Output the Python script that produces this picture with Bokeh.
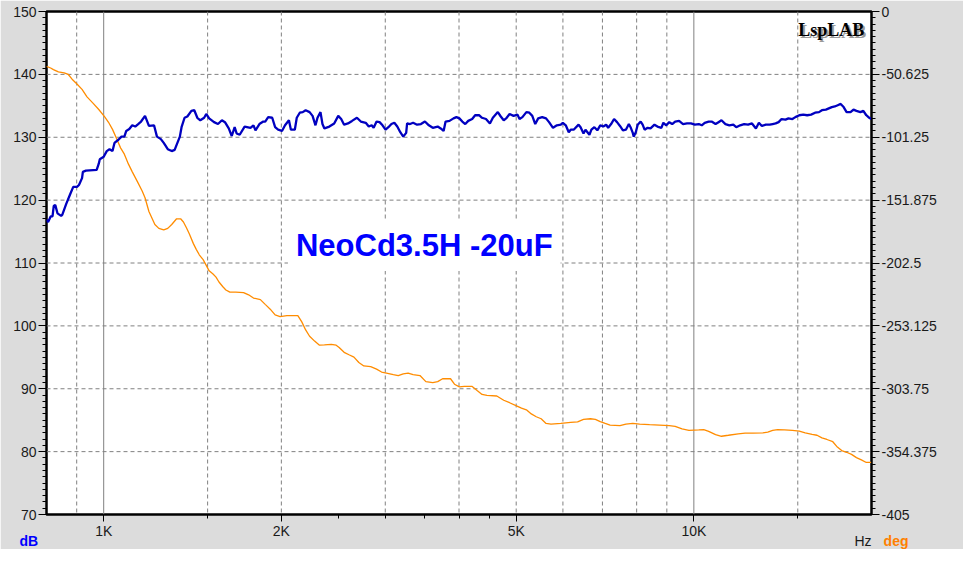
from bokeh.plotting import figure
from bokeh.models import Range1d, LinearAxis, FixedTicker, Span, Label, Title, CustomJSTickFormatter
from bokeh.embed import file_html
from bokeh.resources import INLINE

# ---- data ----
spl_freq = [800, 805, 813, 819, 823, 828, 835, 847, 851, 864, 877, 888, 901, 908, 919, 922, 933, 973, 981, 985,
            1000, 1012, 1023, 1035, 1043, 1059, 1072, 1084, 1092, 1105, 1118, 1131, 1144, 1157, 1175, 1184, 1193,
            1217, 1231, 1250, 1264, 1284, 1304, 1319, 1346, 1355, 1371, 1386, 1408, 1424, 1441, 1458, 1480, 1492,
            1509, 1538, 1562, 1586, 1605, 1629, 1648, 1667, 1680, 1700, 1733, 1773, 1794, 1808, 1836, 1864, 1878,
            1900, 1930, 1952, 1975, 2005, 2029, 2060, 2076, 2108, 2124, 2149, 2174, 2199, 2233, 2259, 2285, 2303,
            2330, 2348, 2366, 2412, 2458, 2497, 2526, 2555, 2594, 2635, 2686, 2727, 2780, 2813, 2845, 2867, 2900,
            2934, 2968, 3003, 3037, 3073, 3108, 3144, 3181, 3218, 3255, 3267, 3305, 3344, 3396, 3448, 3502, 3556,
            3611, 3681, 3724, 3767, 3796, 3855, 3915, 3960, 4006, 4052, 4099, 4147, 4211, 4260, 4326, 4376, 4444,
            4513, 4565, 4654, 4708, 4762, 4818, 4873, 4949, 5026, 5065, 5123, 5203, 5263, 5324, 5386, 5448, 5533,
            5618, 5684, 5772, 5861, 5952, 5998, 6067, 6138, 6185, 6257, 6378, 6428, 6502, 6552, 6654, 6705, 6783,
            6862, 6941, 7022, 7103, 7158, 7241, 7325, 7410, 7496, 7583, 7671, 7760, 7820, 7880, 7910, 7972, 8033,
            8126, 8189, 8252, 8348, 8445, 8576, 8675, 8810, 8878, 8981, 9085, 9190, 9297, 9441, 9587, 9736, 9886,
            10040, 10195, 10313, 10433, 10595, 10718, 10884, 11010, 11138, 11311, 11486, 11664, 11799, 11982,
            12167, 12356, 12547, 12741, 12889, 13039, 13241, 13446, 13602, 13760, 13920, 14081, 14299, 14465,
            14689, 14860, 15090, 15324, 15561, 15802, 16047, 16295, 16484, 16740, 16934, 17131, 17330, 17531,
            17734, 17940, 18148, 18429, 18643, 18859, 19151, 19373, 19598, 19825, 19980]
spl_db = [116.9, 116.5, 117.4, 117.4, 119.1, 119.2, 117.9, 117.5, 117.7, 119.4, 120.9, 122.1, 122.1, 122.4, 123.5,
          124.5, 124.7, 124.8, 125.8, 126.5, 126.9, 127.8, 128.1, 127.8, 129.1, 129.6, 130.1, 130.1, 131.0, 131.3,
          131.9, 131.7, 132.1, 132.5, 133.4, 132.6, 131.8, 131.9, 130.1, 129.7, 129.1, 128.1, 127.8, 128.0, 130.1,
          131.6, 133.1, 133.3, 134.2, 134.3, 133.1, 132.7, 133.1, 133.7, 133.0, 132.4, 132.1, 132.7, 132.4, 131.4,
          130.2, 131.6, 130.6, 130.4, 131.7, 131.5, 131.9, 131.1, 132.1, 132.5, 132.5, 133.2, 133.1, 131.6, 131.2,
          131.0, 131.9, 132.7, 131.2, 131.2, 133.1, 133.9, 134.0, 134.3, 134.0, 133.4, 131.9, 133.1, 134.0, 132.1,
          131.4, 131.7, 132.2, 133.4, 132.9, 132.0, 132.2, 132.6, 133.1, 132.5, 132.3, 131.7, 131.9, 131.5, 132.5,
          132.4, 131.9, 131.2, 131.6, 132.1, 132.3, 131.7, 130.8, 130.1, 130.7, 132.2, 132.1, 132.3, 132.0, 132.1,
          132.5, 131.9, 131.5, 131.7, 131.4, 131.0, 132.5, 132.6, 133.0, 133.2, 133.0, 132.5, 132.1, 132.6, 132.9,
          133.5, 133.5, 133.1, 132.9, 132.2, 133.1, 134.0, 133.3, 132.7, 133.1, 133.7, 133.4, 133.6, 132.9, 133.2,
          134.0, 133.9, 133.4, 132.1, 133.0, 133.2, 133.0, 132.4, 131.5, 131.9, 132.0, 132.3, 131.9, 130.8, 131.2,
          131.2, 132.0, 131.6, 130.6, 131.2, 130.4, 131.2, 131.6, 131.1, 131.9, 131.7, 132.0, 131.5, 132.1, 132.9,
          132.4, 131.8, 131.1, 131.2, 132.1, 131.5, 130.7, 130.1, 130.8, 132.0, 132.5, 132.0, 131.2, 131.5, 131.4,
          132.0, 131.7, 131.5, 132.3, 131.9, 132.4, 132.1, 132.5, 132.6, 132.1, 132.2, 132.2, 132.0, 132.1, 131.9,
          132.3, 132.5, 132.5, 132.1, 132.4, 132.7, 132.1, 131.9, 132.0, 131.6, 131.9, 132.1, 132.0, 132.2, 131.4,
          132.3, 131.8, 132.0, 132.0, 132.1, 132.2, 132.4, 132.9, 132.8, 133.0, 132.9, 133.2, 133.5, 133.6, 133.5,
          133.6, 133.9, 134.0, 134.3, 134.4, 134.6, 134.8, 134.9, 135.1, 135.3, 134.8, 134.0, 134.0, 134.4, 134.2,
          134.0, 134.2, 133.5, 133.1, 132.9]

phase_freq = [800, 813, 822, 838, 857, 871, 884, 901, 919, 937, 959, 981, 1004, 1019, 1035, 1051, 1068, 1084, 1101,
              1118, 1140, 1162, 1175, 1193, 1221, 1240, 1264, 1284, 1304, 1329, 1350, 1365, 1381, 1397, 1419, 1435,
              1452, 1474, 1492, 1509, 1532, 1550, 1568, 1592, 1611, 1636, 1674, 1726, 1760, 1794, 1843, 1878, 1915,
              1952, 1990, 2044, 2133, 2166, 2199, 2233, 2277, 2321, 2366, 2430, 2477, 2506, 2555, 2604, 2655, 2706,
              2759, 2834, 2900, 2957, 3014, 3096, 3156, 3218, 3280, 3344, 3435, 3515, 3611, 3681, 3752, 3870, 3930,
              4006, 4084, 4211, 4293, 4376, 4461, 4636, 4762, 4873, 5006, 5104, 5203, 5304, 5407, 5511, 5618, 5728,
              5952, 6185, 6354, 6502, 6680, 6809, 6941, 7076, 7213, 7496, 7671, 7880, 8095, 8412, 8742, 9085, 9297,
              9550, 9811, 10195, 10393, 10595, 10884, 11138, 11442, 11890, 12214, 12595, 13089, 13343, 13602, 13866,
              14244, 14689, 15090, 15442, 15863, 16170, 16484, 16805, 17197, 17464, 17803, 18148, 18500, 18859,
              19224, 19598, 19980]
phase_deg = [-44.2, -45.5, -46.8, -48.6, -49.4, -50.7, -54.5, -58.4, -62.7, -68.7, -73.8, -78.9, -84.9, -89.2, -94.9,
             -102.1, -109.8, -114.9, -122.7, -129.1, -136.8, -144.5, -150.0, -161.0, -171.5, -174.6, -175.9, -174.6,
             -171.5, -166.9, -166.9, -169.5, -174.1, -179.2, -186.9, -191.5, -195.9, -199.8, -204.4, -208.8, -211.4,
             -213.9, -217.8, -221.6, -224.2, -226.0, -226.0, -226.3, -228.1, -230.7, -232.0, -235.8, -239.7, -244.3,
             -245.6, -244.8, -244.8, -249.9, -256.4, -261.5, -265.4, -268.7, -268.5, -268.0, -268.7, -270.5, -274.4,
             -276.4, -278.3, -282.6, -285.4, -286.0, -288.0, -290.3, -291.1, -292.4, -293.1, -291.8, -291.1, -292.4,
             -293.1, -298.0, -298.8, -298.0, -295.7, -295.7, -300.1, -302.2, -301.9, -301.9, -305.2, -308.3, -309.1,
             -309.6, -313.0, -315.0, -317.6, -319.4, -320.7, -324.0, -326.3, -327.9, -331.7, -332.2, -331.7, -330.9,
             -330.4, -328.4, -327.9, -328.4, -330.2, -331.7, -333.0, -333.5, -332.2, -331.7, -332.2, -332.7, -333.0,
             -333.5, -334.0, -336.1, -337.3, -336.9, -336.6, -338.1, -340.7, -342.0, -341.2, -340.0, -339.4, -339.4,
             -339.2, -338.7, -337.3, -336.6, -336.9, -337.3, -337.9, -339.2, -340.4, -341.2, -343.3, -344.6, -346.4,
             -350.2, -353.5, -354.9, -356.6, -359.2, -361.0, -363.1, -363.1]

db_ticks = [70, 80, 90, 100, 110, 120, 130, 140, 150]
deg_ticks = [0, -50.625, -101.25, -151.875, -202.5, -253.125, -303.75, -354.375, -405]
hz_major_ticks = [1000, 2000, 5000, 10000]
hz_minor_ticks = [1500, 2500, 3000, 3500, 4000, 4500, 15000]
hz_dashed_grid = [900, 1500, 2000, 3000, 4000, 5000, 6000, 7000, 8000, 9000, 15000]
hz_solid_grid = [1000, 10000]
db_grid = [80, 90, 100, 110, 120, 130, 140]

FONT = "Liberation Sans"

p = figure(width=963, height=549, x_axis_type="log", x_range=Range1d(800, 20000), y_range=Range1d(70, 150),
           output_backend="svg", toolbar_location=None,
           min_border_left=46, min_border_right=92, min_border_top=11, min_border_bottom=35)
p.extra_y_ranges = {"deg": Range1d(-405, 0)}
p.background_fill_color = "white"
p.border_fill_color = "#dcdcdc"
p.outline_line_color = "black"
p.outline_line_width = 2.5
p.xgrid.visible = False
p.ygrid.visible = False

# grids
for f in hz_dashed_grid:
    p.add_layout(Span(location=f, dimension="height", line_color="#808080", line_width=1,
                      line_dash="4 3", level="underlay"))
for f in hz_solid_grid:
    p.add_layout(Span(location=f, dimension="height", line_color="#808080", line_width=1, level="underlay"))
for d in db_grid:
    p.add_layout(Span(location=d, dimension="width", line_color="#808080", line_width=1,
                      line_dash="4 3", level="underlay"))

# title label inside the plot, on a white box
p.add_layout(Label(x=2052, y=112.8, text="NeoCd3.5H -20uF", text_font=FONT, text_font_size="31px",
                   text_font_style="bold", text_color="#0000ff", text_baseline="alphabetic",
                   background_fill_color="white", padding=8, level="underlay"))

# curves
p.line(phase_freq, phase_deg, y_range_name="deg", line_color="#ff8c00", line_width=1.3)
p.line(spl_freq, spl_db, line_color="#0000c0", line_width=2.3)

# axes style
def style_axis(ax):
    ax.axis_line_color = None
    ax.major_tick_line_color = "black"
    ax.minor_tick_line_color = "black"
    ax.major_tick_in = 0
    ax.minor_tick_in = 0
    ax.major_label_text_font = FONT
    ax.major_label_text_font_size = "14px"
    ax.major_label_text_color = "#1a1a1a"

left = p.yaxis[0]
left.ticker = FixedTicker(ticks=db_ticks, minor_ticks=[v for v in range(71, 150) if v % 10])
style_axis(left)
left.major_tick_out = 8
left.minor_tick_out = 4
left.major_label_standoff = 2

right = LinearAxis(y_range_name="deg",
                   ticker=FixedTicker(ticks=deg_ticks, minor_ticks=[-i * 5.0625 for i in range(1, 80) if i % 10]),
                   formatter=CustomJSTickFormatter(code="return tick.toString();"))
style_axis(right)
right.major_tick_out = 8
right.minor_tick_out = 4
right.major_label_standoff = 2
p.add_layout(right, "right")

bottom = p.xaxis[0]
bottom.ticker = FixedTicker(ticks=hz_major_ticks, minor_ticks=hz_minor_ticks)
bottom.formatter = CustomJSTickFormatter(code="return (tick / 1000) + 'K';")
style_axis(bottom)
bottom.major_tick_out = 7
bottom.minor_tick_out = 4
bottom.major_label_standoff = 1

# corner texts (dB / Hz / deg) as zero-height titles under the x axis, so they are not clipped by the frame
corner_specs = [("dB", "left", -27, "bold", "#0000ff"),
                ("Hz", "right", 0, "normal", "#1a1a1a"),
                ("deg", "right", -37, "bold", "#ff8000")]
for txt, al, off, style, col in corner_specs:
    try:
        t = Title(text=txt, align=al, vertical_align="top", offset=off, standoff=-18,
                  text_font=FONT, text_font_size="14px", text_font_style=style, text_color=col)
    except Exception:
        t = Title(text=txt, align=al, vertical_align="top", offset=off, standoff=0,
                  text_font=FONT, text_font_size="14px", text_font_style=style, text_color=col)
    p.add_layout(t, "below")

# LspLAB logo with shadow
p.add_layout(Label(x=19450, y=147.1, x_offset=2, y_offset=-2, text="LspLAB", text_align="right",
                   text_baseline="alphabetic", text_font="Liberation Serif", text_font_size="18px",
                   text_font_style="bold", text_color="#9a9a9a"))
p.add_layout(Label(x=19450, y=147.1, text="LspLAB", text_align="right", text_baseline="alphabetic",
                   text_font="Liberation Serif", text_font_size="18px", text_font_style="bold",
                   text_color="black"))

open("out.html", "w").write(file_html(p, INLINE))
